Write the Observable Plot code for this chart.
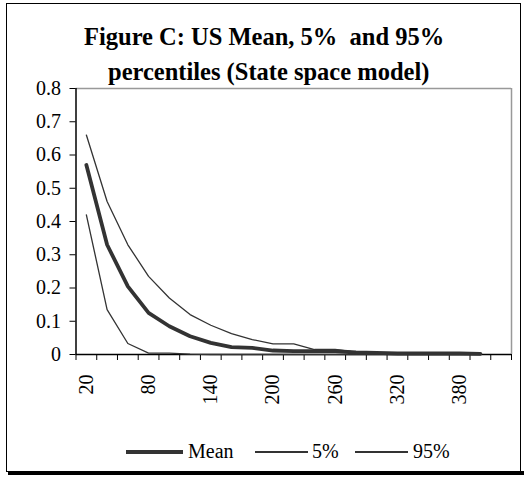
<!DOCTYPE html>
<html>
<head>
<meta charset="utf-8">
<script src="https://cdn.jsdelivr.net/npm/d3@7"></script>
<script src="https://cdn.jsdelivr.net/npm/@observablehq/plot@0.6"></script>
<style>
  html, body { margin: 0; padding: 0; background: #fff; }
  #wrap { position: relative; width: 524px; height: 480px; font-family: "Liberation Serif", "Times New Roman", serif; color: #000; overflow: hidden; }
  .abs { position: absolute; white-space: pre; line-height: 1; }
  #chart svg { position: absolute; left: 0; top: 0; }
</style>
</head>
<body>
<div id="wrap">
  <div class="abs" style="left:6px;top:3px;width:513px;height:467px;border:1px solid #000;"></div>
  <div class="abs" style="left:8px;top:471px;width:516px;height:4px;background:#000;"></div>
  <div id="chart"></div>
  <div class="abs" id="t1" style="left:84px;top:25px;font-size:24.5px;font-weight:bold;"></div>
  <div class="abs" id="t2" style="left:108px;top:60px;font-size:24.5px;font-weight:bold;"></div>
  <div id="legend"></div>
</div>
<script>
// Categories (x values) and series
const categories = [20, 40, 60, 80, 100, 120, 140, 160, 180, 200, 220, 240, 260, 280, 300, 320, 340, 360, 380, 400];
const meanValues = [0.57, 0.33, 0.205, 0.125, 0.085, 0.055, 0.035, 0.022, 0.02, 0.012, 0.01, 0.01, 0.01, 0.006, 0.005, 0.003, 0.003, 0.003, 0.003, 0.002];
const p5Values   = [0.42, 0.135, 0.033, 0.004, 0.004, 0.001, 0, 0, 0, 0, 0, 0, 0, 0, 0, 0, 0, 0, 0, 0];
const p95Values  = [0.66, 0.46, 0.33, 0.235, 0.17, 0.12, 0.088, 0.063, 0.045, 0.032, 0.032, 0.015, 0.015, 0.007, 0.005, 0.003, 0.003, 0.003, 0.002, 0.001];

// Axis ticks
const xCategoryBounds = [10, 30, 50, 70, 90, 110, 130, 150, 170, 190, 210, 230, 250, 270, 290, 310, 330, 350, 370, 390, 410, 430];
const xTickLabels = [20, 80, 140, 200, 260, 320, 380];
const yTicks = [0, 0.1, 0.2, 0.3, 0.4, 0.5, 0.6, 0.7, 0.8];
const yTickLabels = ["0", "0.1", "0.2", "0.3", "0.4", "0.5", "0.6", "0.7", "0.8"];

const titleLines = ["Figure C: US Mean, 5%  and 95%", "percentiles (State space model)"];
const seriesNames = ["Mean", "5%", "95%"];

const rows = [];
categories.forEach((c, i) => {
  rows.push({x: c, y: meanValues[i], s: seriesNames[0]});
  rows.push({x: c, y: p5Values[i], s: seriesNames[1]});
  rows.push({x: c, y: p95Values[i], s: seriesNames[2]});
});
const lineColor = "#333";

const chart = Plot.plot({
  width: 524,
  height: 480,
  marginLeft: 75.5,
  marginRight: 13,
  marginTop: 88,
  marginBottom: 126,
  x: {type: "linear", domain: [10, 430]},
  y: {domain: [0, 0.8]},
  style: {fontFamily: "'Liberation Serif', 'Times New Roman', serif", fontSize: "20px", color: "#000", background: "transparent", overflow: "visible"},
  marks: [
    Plot.ruleY([0.8], {stroke: "#999", strokeWidth: 1.5}),
    Plot.ruleX([430], {stroke: "#999", strokeWidth: 1.5}),
    Plot.axisY({ticks: yTicks, tickSize: 6, tickPadding: 9, label: null, tickFormat: d => yTickLabels[yTicks.indexOf(d)]}),
    Plot.axisX({ticks: xCategoryBounds, tickSize: 6, label: null, tickFormat: () => ""}),
    Plot.axisX({ticks: xTickLabels, tickSize: 0, tickPadding: 20, tickRotate: -90, label: null, tickFormat: d => String(d)}),
    Plot.ruleY([0], {stroke: "#000", strokeWidth: 1.5}),
    Plot.ruleX([10], {stroke: "#000", strokeWidth: 1.5}),
    Plot.line(rows.filter(r => r.s === seriesNames[1]), {x: "x", y: "y", stroke: lineColor, strokeWidth: 1.3}),
    Plot.line(rows.filter(r => r.s === seriesNames[2]), {x: "x", y: "y", stroke: lineColor, strokeWidth: 1.3}),
    Plot.line(rows.filter(r => r.s === seriesNames[0]), {x: "x", y: "y", stroke: lineColor, strokeWidth: 3.8})
  ]
});
document.getElementById("chart").appendChild(chart);
document.getElementById("t1").textContent = titleLines[0];
document.getElementById("t2").textContent = titleLines[1];

// Legend
const legend = document.getElementById("legend");
const legendItems = [
  {name: seriesNames[0], lx: 126, lw: 57, sw: 4, tx: 188},
  {name: seriesNames[1], lx: 255, lw: 53, sw: 1.3, tx: 312},
  {name: seriesNames[2], lx: 355, lw: 53, sw: 1.3, tx: 413}
];
legendItems.forEach(it => {
  const ln = document.createElement("div");
  ln.className = "abs";
  ln.style.cssText = `left:${it.lx}px;top:${452 - it.sw / 2}px;width:${it.lw}px;height:${it.sw}px;background:${lineColor};`;
  legend.appendChild(ln);
  const tx = document.createElement("div");
  tx.className = "abs";
  tx.style.cssText = `left:${it.tx}px;top:441px;font-size:20px;`;
  tx.textContent = it.name;
  legend.appendChild(tx);
});
</script>
</body>
</html>
